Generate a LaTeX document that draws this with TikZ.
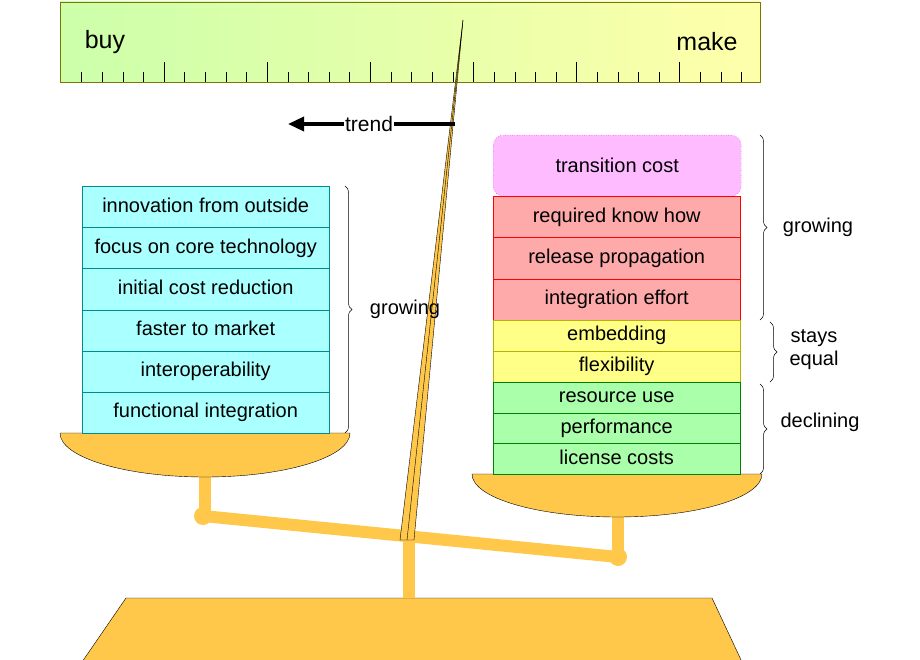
\documentclass[tikz,border=0pt]{standalone}
\usepackage{fontspec}
\setmainfont{Liberation Sans}
\usetikzlibrary{decorations.pathreplacing,arrows.meta}
\definecolor{gold}{HTML}{FFC84A}
\definecolor{rulL}{HTML}{CCFFAA}
\definecolor{rulR}{HTML}{FFFFAA}
\definecolor{rulD}{HTML}{787800}
\definecolor{cyD}{HTML}{008C8C}
\definecolor{cyF}{HTML}{AAFFFF}
\definecolor{mgD}{HTML}{C800C8}
\definecolor{mgF}{HTML}{FFBBFF}
\definecolor{rdF}{HTML}{FFAAAA}
\definecolor{ylD}{HTML}{B4B400}
\definecolor{ylF}{HTML}{FFFF88}
\definecolor{gnD}{HTML}{008200}
\definecolor{gnF}{HTML}{AAFFAA}
\begin{document}
\begin{tikzpicture}[x=1pt,y=-1pt,
  cell/.style={draw=#1,minimum width=247pt,anchor=north west,inner sep=0pt,text height=14.5pt,text depth=4pt,font=\fontsize{20}{22}\selectfont},
  br/.style={decorate,decoration={brace,amplitude=7pt},draw=black,line width=0.5pt},
  lbl/.style={font=\fontsize{20}{23}\selectfont,align=center}]
\useasboundingbox (0,0) rectangle (920,660);
% ruler
\shade[left color=rulL,right color=rulR] (60,2) rectangle (760,82);
\draw[draw=rulD] (60,2) rectangle (760,82);
\foreach \k in {0,...,32}{
  \pgfmathsetmacro\xx{81.5+20.63*\k}
  \pgfmathtruncatemacro\m{mod(\k+1,5)}
  \ifnum\m=0 \draw[line width=1pt] (\xx,62)--(\xx,82); \else \draw (\xx,72)--(\xx,82); \fi}
\node[font=\fontsize{25}{27}\selectfont] (buy) at (105,42) {buy};
\node[font=\fontsize{25}{27}\selectfont] (make) at (707,42) {make};
% base and post
\draw[fill=gold] (126,598)--(712,598)--(742,662)--(82,662)--cycle;
\draw[gold,line width=12pt] (409,540)--(409,598);
% pans
\draw[gold,line width=12pt] (205,470)--(205,516);
\draw[gold,line width=12pt] (618,510)--(618,557);
\draw[fill=gold] (60,433) -- (350,433) arc[start angle=0,end angle=180,x radius=145,y radius=44] -- cycle;
\draw[fill=gold] (472,474) -- (762,474) arc[start angle=0,end angle=180,x radius=145,y radius=43] -- cycle;
% beam
\draw[gold,line width=12pt,line cap=round] (203,516)--(618,557);
\fill[gold] (203,516) circle (9) (618,557) circle (9);
% needle
\draw[fill=gold] (463,20)--(414,540)--(400,540)--cycle;
\draw (463,20)--(407,540);
% trend
\draw[line width=3.5pt,-{Triangle[length=16pt,width=14pt]}] (455,124)--(288,124);
\node[fill=white,inner sep=1pt,font=\fontsize{21}{24}\selectfont] (trend) at (369,124) {trend};
% left stack
\foreach \t [count=\i from 0] in {innovation from outside,focus on core technology,initial cost reduction,faster to market,interoperability,functional integration}
  \node[cell=cyD,fill=cyF,minimum height=41.17pt] (L\i) at (82,186+41.17*\i) {\t};
\draw[br] (345,186)--(345,433);
\node[lbl] (g1) at (405,309) {growing};
% right stack
\node[draw=mgD,dotted,fill=mgF,rounded corners=10pt,minimum width=248pt,minimum height=61pt,anchor=north west,font=\fontsize{20}{22}\selectfont] (tc) at (493,135) {transition cost};
\foreach \t [count=\i from 0] in {required know how,release propagation,integration effort}
  \node[cell=red,fill=rdF,minimum height=41.33pt] (R\i) at (493,196+41.33*\i) {\t};
\foreach \t [count=\i from 0] in {embedding,flexibility}
  \node[cell=ylD,fill=ylF,minimum height=31pt] (Y\i) at (493,320+31*\i) {\t};
\foreach \t [count=\i from 0] in {resource use,performance,license costs}
  \node[cell=gnD,fill=gnF,minimum height=30.67pt] (G\i) at (493,382+30.67*\i) {\t};
\draw[br] (760,135)--(760,320);
\draw[br] (770,322)--(770,382);
\draw[br] (760,384)--(760,474);
\node[lbl] (g2) at (818,227) {growing};
\node[lbl] (se) at (814,350) {stays\\equal};
\node[lbl] (dc) at (820,422) {declining};
\end{tikzpicture}
\end{document}
